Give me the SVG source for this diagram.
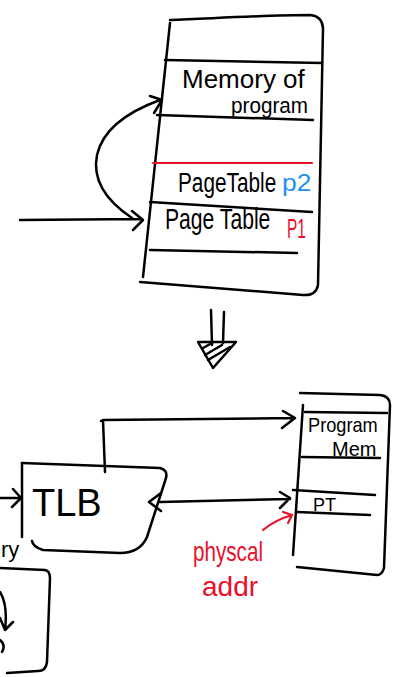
<svg xmlns="http://www.w3.org/2000/svg" width="393" height="677" viewBox="0 0 393 677">
<style>
.s{fill:none;stroke:#000;stroke-width:2.5;stroke-linecap:round;stroke-linejoin:round}
.r{fill:none;stroke:#e8102a;stroke-width:2.2;stroke-linecap:round;stroke-linejoin:round}
.t{font-family:"Liberation Sans","DejaVu Sans",sans-serif;fill:#000}
.red{fill:#e8102a}
.blue{fill:#1e90f0}
</style>
<rect width="393" height="677" fill="#fff"/>

<g id="memory-top">
<path class="s" d="M170,20 C220,18 270,15 310,15 Q322,16 323,28 L318,285 Q316,296 303,295 L140,282"/>
<path class="s" d="M170,23 L143,277"/>
<path class="s" d="M165,60 L322,63"/>
<path class="s" d="M157,115 L313,120"/>
<path class="r" d="M153,163 L312,163"/>
<path class="s" d="M150,202 L312,212"/>
<path class="s" d="M150,250 L297,253"/>
<text class="t" transform="translate(182 88) scale(1 1)" font-size="26">Memory of</text>
<text class="t" transform="translate(231 113) scale(0.94 1)" font-size="22">program</text>
<text class="t" transform="translate(178 192) scale(0.77 1)" font-size="27">PageTable</text>
<text class="t blue" transform="translate(282 191) scale(1.1 1)" font-size="24">p2</text>
<text class="t" transform="translate(165 229) scale(0.705 1)" font-size="30">Page Table</text>
<text class="t red" transform="translate(287 238) scale(0.55 1)" font-size="28">P1</text>
</g>

<g id="arrow-down">
<path class="s" d="M211,310 L212,345 M224,312 L223,343"/>
<path class="s" d="M198,342 L236,342 L213,368 Z"/>
<path class="s" d="M203,348 L212,343 M205,355 L222,345 M208,360 L230,347"/>
</g>

<g id="tlb">
<path class="s" d="M22,463 L160,468 Q168,470 166,478 L147,537 Q140,553 120,553 L43,550 Q33,547 32,541"/>
<path class="s" d="M22,463 L22,537"/>
<text class="t" x="32" y="516" font-size="38">TLB</text>
</g>

<g id="memory-bottom">
<path class="s" d="M300,393 L380,395 Q390,396 390,405 L384,568 Q382,575 377,575 L297,567"/>
<path class="s" d="M303,405 L293,555"/>
<path class="s" d="M305,412 L387,413"/>
<path class="s" d="M302,457 L380,458"/>
<path class="s" d="M293,490 L375,495"/>
<path class="s" d="M297,512 L370,515"/>
<text class="t" transform="translate(308 432) scale(0.91 1)" font-size="20">Program</text>
<text class="t" transform="translate(332 456) scale(1 1)" font-size="20">Mem</text>
<text class="t" x="313" y="511" font-size="18">PT</text>
</g>

<g id="physical-label">
<text class="t red" transform="translate(193 561) scale(0.765 1)" font-size="27">physcal</text>
<text class="t red" x="202" y="596" font-size="28">addr</text>
</g>

<g id="partial-box">
<path class="s" d="M0,568 L45,570 Q50,571 50,578 L47,662 Q46,671 38,671 L7,673"/>
<path class="s" d="M0,592 Q8,605 5,630 M0,618 L5,630 L13,622 M0,640 Q6,645 2,652"/>
<text class="t" x="1" y="557" font-size="22">ry</text>
</g>

<g id="connectors">
<path class="s" d="M20,220 L142,219 M132,211 L143,220 L133,230"/>
<path class="s" d="M132,218 Q90,190 97,155 Q105,120 160,100 M150,96 L162,100 L154,113"/>
<path class="s" d="M0,498 L21,498 M13,489 L21,498 L12,507"/>
<path class="s" d="M105,472 L103,420 L101,421 M103,420 L295,418 M283,411 L295,418 L282,428"/>
<path class="s" d="M160,502 L290,499 M280,492 L290,498 L280,508 M161,493 L149,502 L161,511"/>
<path class="r" d="M263,530 Q275,520 292,515 M283,512 L292,515 L288,523"/>
</g>
</svg>
